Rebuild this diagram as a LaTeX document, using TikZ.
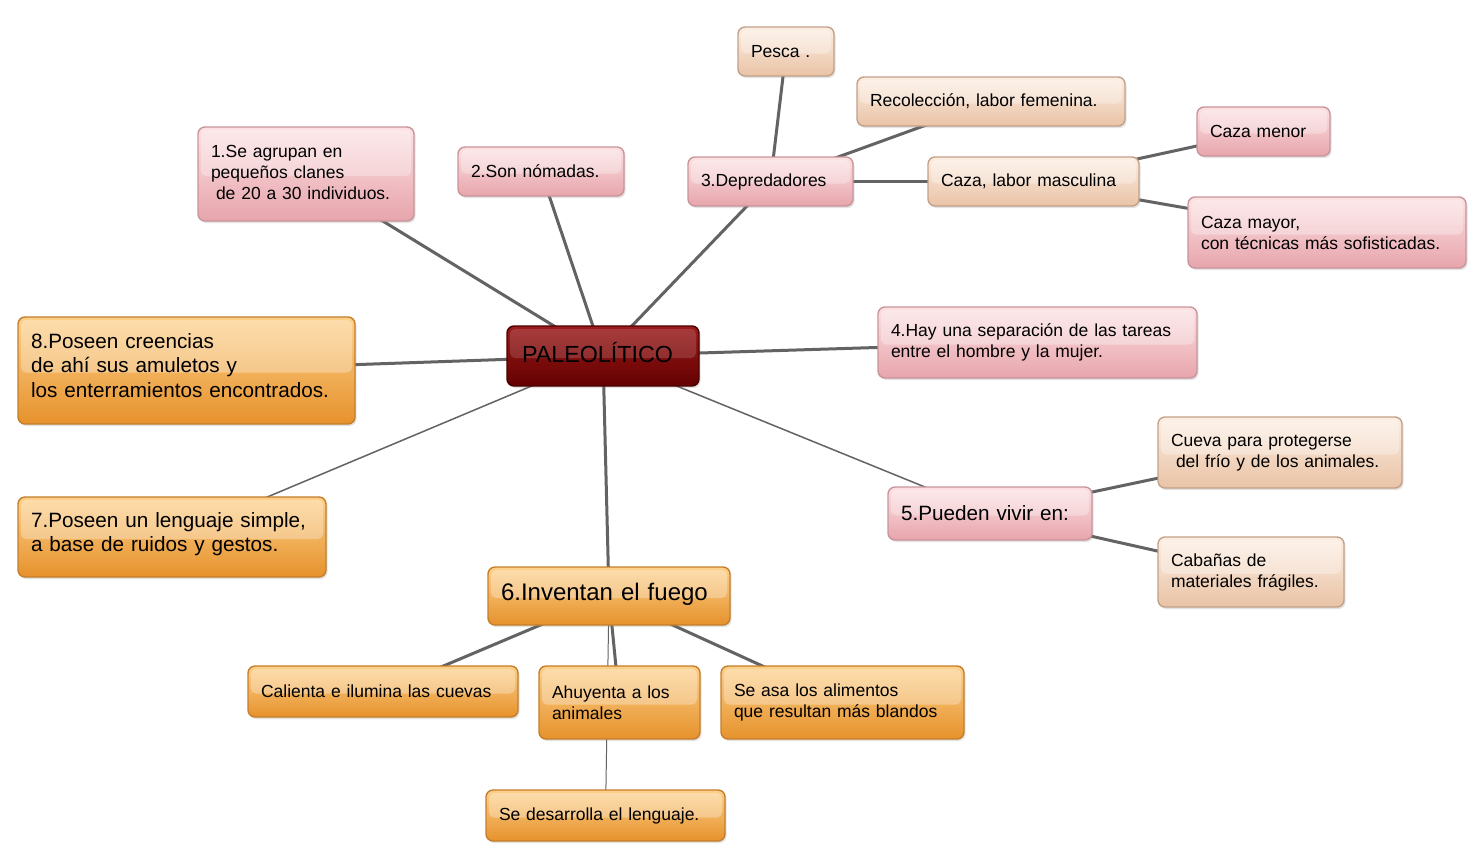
\documentclass[tikz,border=0pt]{standalone}
\usepackage{fontspec}
\setmainfont{Liberation Sans}
\usetikzlibrary{shadows}
\pgfdeclarelayer{bg}
\pgfdeclarelayer{lines}
\pgfsetlayers{bg,lines,main}
\definecolor{pinkT}{HTML}{FCE1E3}
\definecolor{pinkB}{HTML}{E7A5AC}
\definecolor{pinkD}{HTML}{C8959A}
\definecolor{peachT}{HTML}{FDEEE2}
\definecolor{peachB}{HTML}{E9C3A6}
\definecolor{peachD}{HTML}{C2A189}
\definecolor{orT}{HTML}{FDD08A}
\definecolor{orB}{HTML}{E6922C}
\definecolor{orD}{HTML}{C47E2C}
\definecolor{redT}{HTML}{9C1C1C}
\definecolor{redB}{HTML}{640000}
\definecolor{redD}{HTML}{4A0000}
\definecolor{linegray}{HTML}{636363}
\newcommand{\upby}[2]{\raisebox{#1}[\height][\depth]{#2}}
\begin{document}
\begin{tikzpicture}[x=1pt,y=-1pt,
  box/.style={rectangle, rounded corners=7pt, line width=1.4pt, inner xsep=13pt, inner ysep=0pt,
    align=left, text=black,
    drop shadow={shadow xshift=1.5pt, shadow yshift=-2pt, opacity=0.22},
    path picture={\fill[white, fill opacity=\glossop, rounded corners=5pt]
      ([xshift=3pt,yshift=-3pt]path picture bounding box.north west) rectangle
      ([xshift=-3pt,yshift=-2pt]path picture bounding box.east);}},
  smallfont/.style={font=\fontsize{17.5}{21}\selectfont},
  bigfont/.style={font=\fontsize{20.7}{24.5}\selectfont},
  pinkbox/.style={box, top color=pinkT, bottom color=pinkB, draw=pinkD},
  peachbox/.style={box, top color=peachT, bottom color=peachB, draw=peachD},
  orangebox/.style={box, top color=orT, bottom color=orB, draw=orD},
  centerbox/.style={box, top color=redT, bottom color=redB, draw=redD, inner xsep=15pt,
    text=black, font=\fontsize{23.3}{27}\selectfont},
  link/.style={draw=linegray, line width=3pt},
  thinlink/.style={draw=linegray, line width=1.5pt},
  hairlink/.style={draw=linegray, line width=1pt}
]
\def\glossop{0.3}
\begin{pgfonlayer}{bg}
\fill[white] (0,0) rectangle (1477,852);
\end{pgfonlayer}
\useasboundingbox (0,0) rectangle (1477,852);

% central node
{\def\glossop{0.14}
\node[centerbox, minimum width=192pt, minimum height=60pt, text width=162pt] (c) at (603,356) {\upby{3pt}{PALEOLÍTICO}};
}

% pink nodes
\node[pinkbox, smallfont, minimum width=216pt, minimum height=94pt, text width=190pt] (n1) at (306,174)
  {\upby{2pt}{\parbox{190pt}{1.Se agrupan en\\pequeños clanes\\\hspace*{5pt}de 20 a 30 individuos.}}};
\node[pinkbox, smallfont, minimum width=166pt, minimum height=49pt, text width=140pt] (n2) at (541,171.5) {2.Son nómadas.};
\node[pinkbox, smallfont, minimum width=165pt, minimum height=49pt, text width=139pt] (n3) at (770.5,181.5) {3.Depredadores};
\node[pinkbox, smallfont, minimum width=133pt, minimum height=49pt, text width=107pt] (men) at (1263.5,131.5) {Caza menor};
\node[pinkbox, smallfont, minimum width=278pt, minimum height=71pt, text width=252pt] (may) at (1327,232.5)
  {Caza mayor,\\con técnicas más sofisticadas.};
\node[pinkbox, smallfont, minimum width=319pt, minimum height=71pt, text width=293pt] (n4) at (1037.5,342.5)
  {4.Hay una separación de las tareas\\entre el hombre y la mujer.};
\node[pinkbox, bigfont, minimum width=204pt, minimum height=53pt, text width=178pt] (n5) at (990,513.5) {5.Pueden vivir en:};

% peach nodes
\node[peachbox, smallfont, minimum width=96pt, minimum height=49pt, text width=70pt] (pes) at (786,51.5) {Pesca .};
\node[peachbox, smallfont, minimum width=268pt, minimum height=49pt, text width=242pt] (rec) at (991,101.5) {Recolección, labor femenina.};
\node[peachbox, smallfont, minimum width=211pt, minimum height=49pt, text width=185pt] (cm) at (1033.5,181.5) {Caza, labor masculina};
\node[peachbox, smallfont, minimum width=244pt, minimum height=71pt, text width=218pt] (cue) at (1280,452.5)
  {Cueva para protegerse\\\hspace*{5pt}del frío y de los animales.};
\node[peachbox, smallfont, minimum width=186pt, minimum height=70pt, text width=160pt] (cab) at (1251,572)
  {Cabañas de\\materiales frágiles.};

% orange nodes
\node[orangebox, bigfont, minimum width=337pt, minimum height=107pt, text width=311pt] (n8) at (186.5,370.5)
  {\upby{5pt}{\parbox{311pt}{8.Poseen creencias\\de ahí sus amuletos y\\los enterramientos encontrados.}}};
\node[orangebox, bigfont, minimum width=308pt, minimum height=80pt, text width=282pt] (n7) at (172,537)
  {\upby{3pt}{\parbox{282pt}{7.Poseen un lenguaje simple,\\a base de ruidos y gestos.}}};
\node[orangebox, font=\fontsize{24}{28}\selectfont, minimum width=242pt, minimum height=58pt, text width=216pt] (n6) at (609,596)
  {\upby{2pt}{6.Inventan el fuego}};
\node[orangebox, smallfont, minimum width=270pt, minimum height=51pt, text width=244pt] (cal) at (383,691.5)
  {Calienta e ilumina las cuevas};
\node[orangebox, smallfont, minimum width=161pt, minimum height=73pt, text width=135pt] (ahu) at (619.5,702.5)
  {Ahuyenta a los\\animales};
\node[orangebox, smallfont, minimum width=243pt, minimum height=73pt, text width=217pt] (asa) at (842.5,702.5)
  {Se asa los alimentos\\que resultan más blandos};
\node[orangebox, smallfont, minimum width=239pt, minimum height=51pt, text width=213pt] (des) at (605.5,815.5)
  {Se desarrolla el lenguaje.};

% connectors
\begin{pgfonlayer}{lines}
\draw[link] (c.center) -- (n1.center);
\draw[link] (c.center) -- (n2.center);
\draw[link] (c.center) -- (n3.center);
\draw[link] (c.center) -- (n4.center);
\draw[thinlink] (c.center) -- (n5.center);
\draw[link] (c.center) -- (n6.center);
\draw[thinlink] (c.center) -- (n7.center);
\draw[link] (c.center) -- (n8.center);
\draw[link] (n3.center) -- (pes.center);
\draw[link] (n3.center) -- (rec.center);
\draw[link] (n3.center) -- (cm.center);
\draw[link] (cm.center) -- (men.center);
\draw[link] (cm.center) -- (may.center);
\draw[link] (n5.center) -- (cue.center);
\draw[link] (n5.center) -- (cab.center);
\draw[link] (n6.center) -- (cal.center);
\draw[link] (n6.center) -- (ahu.center);
\draw[link] (n6.center) -- (asa.center);
\draw[hairlink] (n6.center) -- (des.center);
\end{pgfonlayer}
\end{tikzpicture}
\end{document}
